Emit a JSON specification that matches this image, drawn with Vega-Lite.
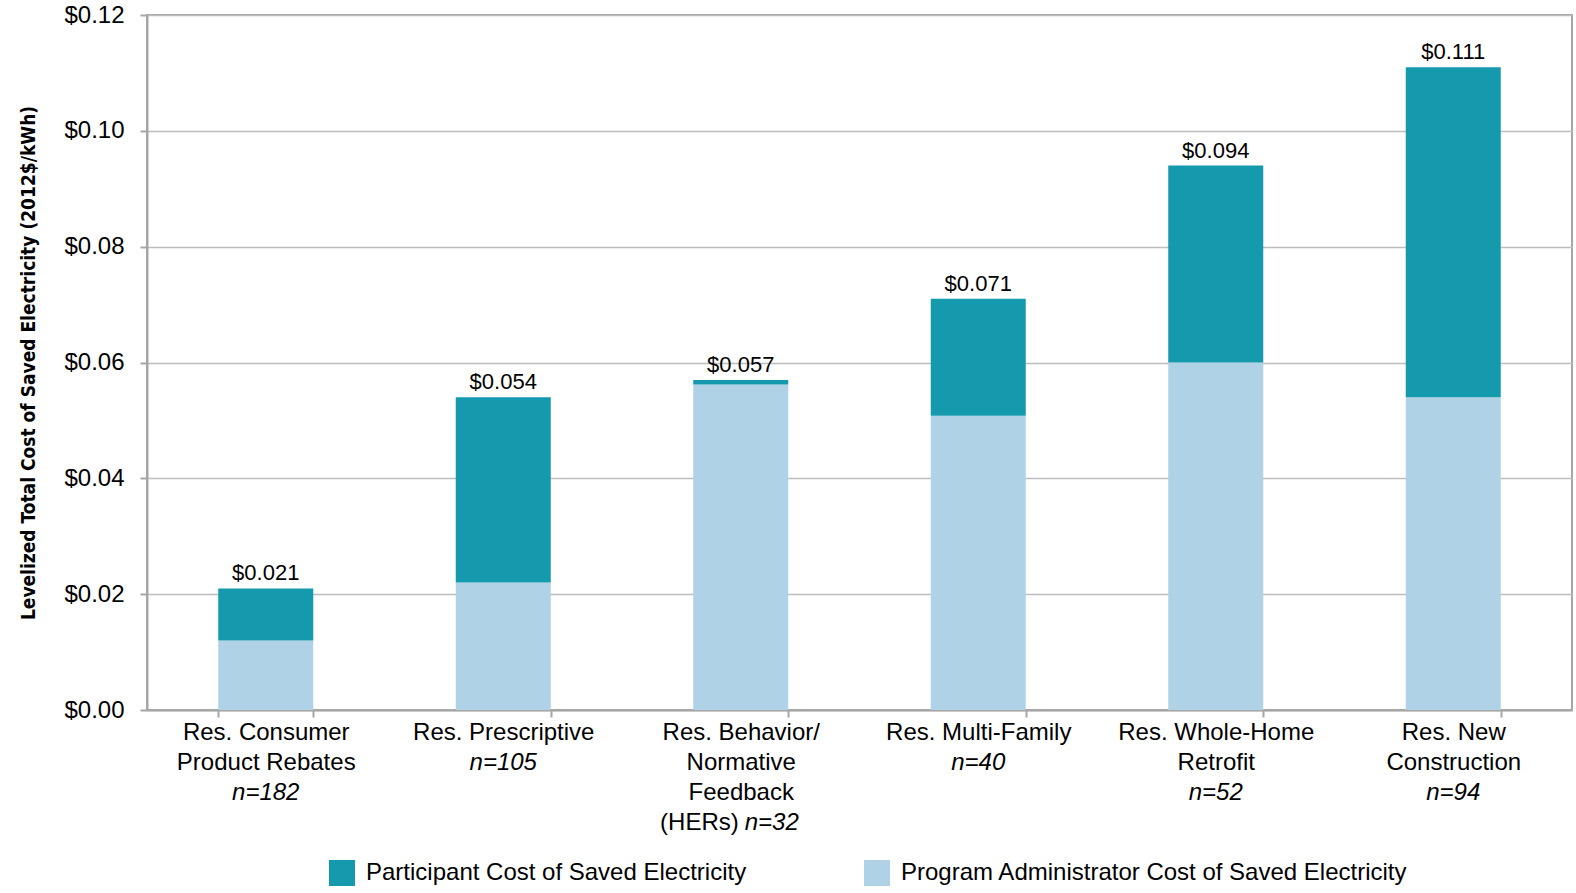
{
  "$schema": "https://vega.github.io/schema/vega-lite/v6.json",
  "width": 1425,
  "height": 695,
  "autosize": {"type": "none"},
  "padding": {"left": 147, "top": 15, "right": 4, "bottom": 183},
  "background": "white",
  "config": {
    "font": "Liberation Sans",
    "view": {"stroke": "#A6A6A6", "strokeWidth": 2},
    "axis": {"labelColor": "#000000", "titleColor": "#000000"}
  },
  "datasets": {
    "bars": [
      {"category": "Res. Consumer Product Rebates", "component": "Program Administrator Cost of Saved Electricity", "value": 0.012},
      {"category": "Res. Consumer Product Rebates", "component": "Participant Cost of Saved Electricity", "value": 0.009},
      {"category": "Res. Prescriptive", "component": "Program Administrator Cost of Saved Electricity", "value": 0.022},
      {"category": "Res. Prescriptive", "component": "Participant Cost of Saved Electricity", "value": 0.032},
      {"category": "Res. Behavior/Normative Feedback (HERs)", "component": "Program Administrator Cost of Saved Electricity", "value": 0.0562},
      {"category": "Res. Behavior/Normative Feedback (HERs)", "component": "Participant Cost of Saved Electricity", "value": 0.0008},
      {"category": "Res. Multi-Family", "component": "Program Administrator Cost of Saved Electricity", "value": 0.0508},
      {"category": "Res. Multi-Family", "component": "Participant Cost of Saved Electricity", "value": 0.0202},
      {"category": "Res. Whole-Home Retrofit", "component": "Program Administrator Cost of Saved Electricity", "value": 0.060},
      {"category": "Res. Whole-Home Retrofit", "component": "Participant Cost of Saved Electricity", "value": 0.034},
      {"category": "Res. New Construction", "component": "Program Administrator Cost of Saved Electricity", "value": 0.054},
      {"category": "Res. New Construction", "component": "Participant Cost of Saved Electricity", "value": 0.057}
    ],
    "nlabels": [
      {"category": "Res. Consumer Product Rebates", "text": "n=182", "line": 3},
      {"category": "Res. Prescriptive", "text": "n=105", "line": 2},
      {"category": "Res. Behavior/Normative Feedback (HERs)", "text": "n=32", "line": 4},
      {"category": "Res. Multi-Family", "text": "n=40", "line": 2},
      {"category": "Res. Whole-Home Retrofit", "text": "n=52", "line": 3},
      {"category": "Res. New Construction", "text": "n=94", "line": 3}
    ],
    "hers": [
      {"category": "Res. Behavior/Normative Feedback (HERs)", "text": "(HERs)"}
    ]
  },
  "encoding": {
    "x": {
      "field": "category",
      "type": "nominal",
      "scale": {
        "domain": ["Res. Consumer Product Rebates", "Res. Prescriptive", "Res. Behavior/Normative Feedback (HERs)", "Res. Multi-Family", "Res. Whole-Home Retrofit", "Res. New Construction"],
        "paddingInner": 0.6,
        "paddingOuter": 0.3
      },
      "axis": {
        "title": null,
        "labelAngle": 0,
        "labelFontSize": 24,
        "labelLineHeight": 30,
        "labelPadding": 3,
        "labelBaseline": "top",
        "labelLimit": 400,
        "tickBand": "extent",
        "tickSize": 7,
        "tickColor": "#A6A6A6",
        "tickWidth": 2,
        "domainColor": "#A6A6A6",
        "domainWidth": 2,
        "labelExpr": "datum.value == 'Res. Consumer Product Rebates' ? ['Res. Consumer', 'Product Rebates'] : datum.value == 'Res. Behavior/Normative Feedback (HERs)' ? ['Res. Behavior/', 'Normative', 'Feedback'] : datum.value == 'Res. Whole-Home Retrofit' ? ['Res. Whole-Home', 'Retrofit'] : datum.value == 'Res. New Construction' ? ['Res. New', 'Construction'] : datum.value"
      }
    }
  },
  "layer": [
    {
      "data": {"name": "bars"},
      "mark": {"type": "bar"},
      "encoding": {
        "y": {
          "field": "value",
          "type": "quantitative",
          "stack": "zero",
          "scale": {"domain": [0, 0.12], "nice": false},
          "axis": {
            "values": [0, 0.02, 0.04, 0.06, 0.08, 0.1, 0.12],
            "format": "$.2f",
            "labelFontSize": 24,
            "labelPadding": 16,
            "tickSize": 7,
            "tickColor": "#A6A6A6",
            "tickWidth": 2,
            "domainColor": "#A6A6A6",
            "domainWidth": 2,
            "gridColor": "#BDBDBD",
            "gridWidth": 1.5,
            "title": "Levelized Total Cost of Saved Electricity (2012$/kWh)",
            "titleFont": "DejaVu Sans Condensed, Liberation Sans",
            "titleFontSize": 19,
            "titleFontWeight": "bold",
            "titlePadding": 25
          }
        },
        "color": {
          "field": "component",
          "type": "nominal",
          "scale": {
            "domain": ["Participant Cost of Saved Electricity", "Program Administrator Cost of Saved Electricity"],
            "range": ["#1599AD", "#B0D2E6"]
          },
          "legend": {
            "title": null,
            "orient": "none",
            "direction": "horizontal",
            "legendX": 182,
            "legendY": 845,
            "symbolType": "square",
            "symbolSize": 676,
            "symbolStrokeWidth": 0,
            "labelFontSize": 24,
            "labelColor": "#000000",
            "labelOffset": 11,
            "columnPadding": 117,
            "labelLimit": 600
          }
        },
        "order": {"field": "component", "sort": "descending"}
      }
    },
    {
      "data": {"name": "bars"},
      "mark": {"type": "text", "fontSize": 22, "baseline": "bottom", "dy": -3, "color": "#000000"},
      "encoding": {
        "y": {"aggregate": "sum", "field": "value", "type": "quantitative"},
        "text": {"aggregate": "sum", "field": "value", "type": "quantitative", "format": "$.3f"}
      }
    },
    {
      "data": {"name": "nlabels"},
      "transform": [{"filter": "datum.line == 2"}],
      "mark": {"type": "text", "fontSize": 24, "fontStyle": "italic", "baseline": "middle", "dy": 53, "color": "#000000"},
      "encoding": {
        "y": {"datum": 0, "type": "quantitative"},
        "text": {"field": "text"}
      }
    },
    {
      "data": {"name": "nlabels"},
      "transform": [{"filter": "datum.line == 3"}],
      "mark": {"type": "text", "fontSize": 24, "fontStyle": "italic", "baseline": "middle", "dy": 83, "color": "#000000"},
      "encoding": {
        "y": {"datum": 0, "type": "quantitative"},
        "text": {"field": "text"}
      }
    },
    {
      "data": {"name": "nlabels"},
      "transform": [{"filter": "datum.line == 4"}],
      "mark": {"type": "text", "fontSize": 24, "fontStyle": "italic", "baseline": "middle", "align": "left", "dx": 4, "dy": 113, "color": "#000000"},
      "encoding": {
        "y": {"datum": 0, "type": "quantitative"},
        "text": {"field": "text"}
      }
    },
    {
      "data": {"name": "hers"},
      "mark": {"type": "text", "fontSize": 24, "baseline": "middle", "align": "right", "dx": -2, "dy": 113, "color": "#000000"},
      "encoding": {
        "y": {"datum": 0, "type": "quantitative"},
        "text": {"field": "text"}
      }
    }
  ]
}
